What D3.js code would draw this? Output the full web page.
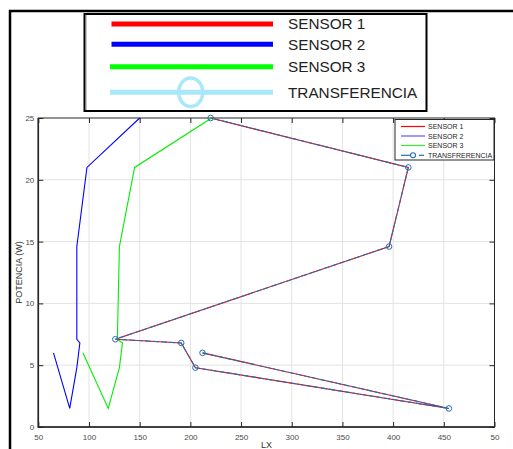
<!DOCTYPE html>
<html>
<head>
<meta charset="utf-8">
<script src="https://cdn.jsdelivr.net/npm/d3@7"></script>
<style>
  html, body { margin: 0; padding: 0; background: #fff; }
  svg { display: block; font-family: "Liberation Sans", Arial, sans-serif; }
</style>
</head>
<body>
<svg id="chart" width="513" height="449"></svg>
<script>
// Illuminance (LX) vs. power (W) readings for three sensors and the transfer curve
const potencia = [6, 1.5, 4.8, 6.8, 7.1, 14.6, 21, 25];
const sensor1Lx = [212, 455, 205, 191, 126, 396, 415, 220];
const sensor2Lx = [65, 81, 88, 91, 88, 88, 98, 150];
const sensor3Lx = [94, 119, 130, 133, 128, 130, 145, 221];
const transferenciaLx = [212, 455, 205, 191, 126, 396, 415, 220];

const xTicks = [50, 100, 150, 200, 250, 300, 350, 400, 450, 500];
const xTickLabels = ["50", "100", "150", "200", "250", "300", "350", "400", "450", "50"];
const yTicks = [0, 5, 10, 15, 20, 25];

const seriesNames = ["SENSOR 1", "SENSOR 2", "SENSOR 3", "TRANSFERENCIA"];
const innerLegendNames = ["SENSOR 1", "SENSOR 2", "SENSOR 3", "TRANSFRERENCIA"];

const svg = d3.select("#chart");

// outer frame
svg.append("rect")
  .attr("x", 10).attr("y", 11).attr("width", 520).attr("height", 460)
  .attr("fill", "none").attr("stroke", "#000").attr("stroke-width", 2.5);

const x = d3.scaleLinear().domain([50, 500]).range([38.3, 494.5]);
const y = d3.scaleLinear().domain([0, 25]).range([427, 118]);

const plot = svg.append("g");

// grid
plot.append("g").selectAll("line").data(xTicks.slice(1, -1)).join("line")
  .attr("x1", d => x(d)).attr("x2", d => x(d))
  .attr("y1", y(0)).attr("y2", y(25))
  .attr("stroke", "#e3e3e3").attr("stroke-width", 1);
plot.append("g").selectAll("line").data(yTicks.slice(1, -1)).join("line")
  .attr("y1", d => y(d)).attr("y2", d => y(d))
  .attr("x1", x(50)).attr("x2", x(500))
  .attr("stroke", "#e3e3e3").attr("stroke-width", 1);

// axes (ticks pointing inward)
function styleAxis(g) {
  g.selectAll("text").attr("fill", "#4a4a4a").style("font-size", "8px")
    .style("font-family", "'Liberation Sans', Arial, sans-serif");
  g.selectAll("line").attr("stroke", "#262626");
  g.select(".domain").remove();
}
plot.append("g").attr("transform", `translate(0,${y(0)})`)
  .call(d3.axisBottom(x).tickValues(xTicks).tickSize(-5).tickPadding(7)
    .tickFormat((d, i) => xTickLabels[i]))
  .call(styleAxis);
plot.append("g").attr("transform", `translate(0,${y(25)})`)
  .call(d3.axisTop(x).tickValues(xTicks).tickSize(-5).tickFormat(""))
  .call(styleAxis);
plot.append("g").attr("transform", `translate(${x(50)},0)`)
  .call(d3.axisLeft(y).tickValues(yTicks).tickSize(-5).tickPadding(4))
  .call(styleAxis);
plot.append("g").attr("transform", `translate(${x(500)},0)`)
  .call(d3.axisRight(y).tickValues(yTicks).tickSize(-5).tickFormat(""))
  .call(styleAxis);

// box
plot.append("rect")
  .attr("x", x(50)).attr("y", y(25))
  .attr("width", x(500) - x(50)).attr("height", y(0) - y(25))
  .attr("fill", "none").attr("stroke", "#262626").attr("stroke-width", 1);
plot.append("path")
  .attr("d", `M${x(50)},${y(25)}V${y(0)}H${x(500)}`)
  .attr("fill", "none").attr("stroke", "#262626").attr("stroke-width", 1.6);

// axis titles
svg.append("text")
  .attr("transform", `translate(22,${(y(0) + y(25)) / 2}) rotate(-90)`)
  .attr("text-anchor", "middle").attr("fill", "#333").style("font-size", "9px")
  .text("POTENCIA (W)");
svg.append("text")
  .attr("x", (x(50) + x(500)) / 2).attr("y", 447.5)
  .attr("text-anchor", "middle").attr("fill", "#333").style("font-size", "9px")
  .text("LX");

// series
const line = d3.line().x(d => x(d[0])).y(d => y(d[1]));
const zipSeries = xs => xs.map((v, i) => [v, potencia[i]]);

const series = [
  { xs: sensor1Lx, color: "#ff0000" },
  { xs: sensor2Lx, color: "#0000ff" },
  { xs: sensor3Lx, color: "#00ee00" }
];
plot.append("g").selectAll("path").data(series).join("path")
  .attr("d", s => line(zipSeries(s.xs)))
  .attr("fill", "none").attr("stroke", s => s.color).attr("stroke-width", 1.1);

const transColor = "#1f6fb5";
const transData = zipSeries(transferenciaLx);
plot.append("path")
  .attr("d", line(transData))
  .attr("fill", "none").attr("stroke", transColor).attr("stroke-width", 1.1)
  .attr("stroke-dasharray", "6,2");
plot.append("g").selectAll("circle").data(transData).join("circle")
  .attr("cx", d => x(d[0])).attr("cy", d => y(d[1])).attr("r", 2.8)
  .attr("fill", "none").attr("stroke", transColor).attr("stroke-width", 1);

// inner legend
const innerLeg = svg.append("g");
innerLeg.append("rect").attr("x", 395).attr("y", 119.5).attr("width", 99).attr("height", 40.5)
  .attr("fill", "#fff").attr("stroke", "#262626").attr("stroke-width", 1);
const legColors = ["#ff0000", "#5a5aff", "#33ee33", transColor];
const legY = [126.5, 136, 145.5, 155.3];
innerLegendNames.forEach((name, i) => {
  if (i < 3) {
    innerLeg.append("line").attr("x1", 401).attr("x2", 425).attr("y1", legY[i]).attr("y2", legY[i])
      .attr("stroke", legColors[i]).attr("stroke-width", 1.2);
  } else {
    innerLeg.append("line").attr("x1", 401).attr("x2", 410).attr("y1", legY[i]).attr("y2", legY[i])
      .attr("stroke", transColor).attr("stroke-width", 1.2);
    innerLeg.append("line").attr("x1", 419).attr("x2", 424).attr("y1", legY[i]).attr("y2", legY[i])
      .attr("stroke", transColor).attr("stroke-width", 1.2);
    innerLeg.append("circle").attr("cx", 413).attr("cy", legY[i]).attr("r", 2.5)
      .attr("fill", "none").attr("stroke", transColor).attr("stroke-width", 1.1);
  }
  innerLeg.append("text").attr("x", 428).attr("y", legY[i] + 2.5)
    .attr("fill", "#262626").style("font-size", "7px").text(name);
});

// header legend
const headLeg = svg.append("g");
headLeg.append("rect").attr("x", 84.5).attr("y", 14).attr("width", 342).attr("height", 97)
  .attr("fill", "#fff").attr("stroke", "#000").attr("stroke-width", 2);
headLeg.append("line").attr("x1", 86.5).attr("x2", 86.5).attr("y1", 15).attr("y2", 110)
  .attr("stroke", "#c8c8c8").attr("stroke-width", 1);
const headColors = ["#ff0000", "#0000ff", "#00ff00", "#a8e8fa"];
const headY = [24, 44.3, 66.7, 92.3];
seriesNames.forEach((name, i) => {
  headLeg.append("line").attr("x1", i < 2 ? 111.5 : 110).attr("x2", 273)
    .attr("y1", headY[i]).attr("y2", headY[i])
    .attr("stroke", headColors[i]).attr("stroke-width", 5);
  headLeg.append("text").attr("x", 288).attr("y", headY[i] + 5.4)
    .attr("fill", "#222").style("font-size", "15.3px").text(name);
});
headLeg.append("ellipse").attr("cx", 190.7).attr("cy", 92.3).attr("rx", 12).attr("ry", 14.3)
  .attr("fill", "none").attr("stroke", headColors[3]).attr("stroke-width", 3.5);
</script>
</body>
</html>
